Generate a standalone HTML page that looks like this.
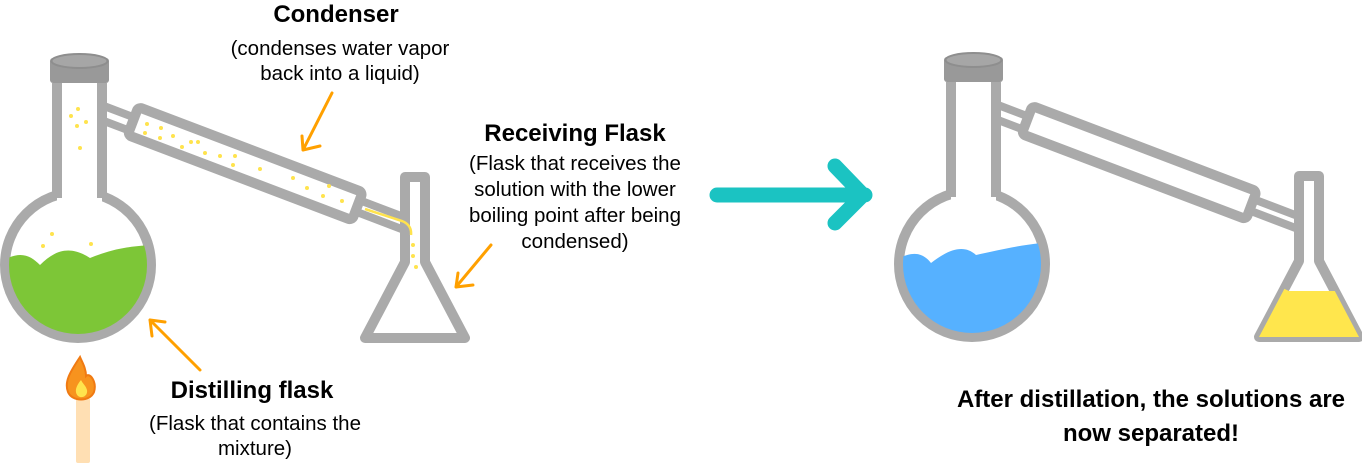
<!DOCTYPE html>
<html><head><meta charset="utf-8"><style>
html,body{margin:0;padding:0;background:#fff;width:1362px;height:463px;overflow:hidden}
svg{display:block}
text{font-family:"Liberation Sans",Arial,sans-serif;fill:#000}
.b{font-weight:bold;font-size:24px}
.s{font-size:20.5px}
</style></head><body>
<svg width="1362" height="463" viewBox="0 0 1362 463" xmlns="http://www.w3.org/2000/svg">
<defs>
<clipPath id="c1"><circle cx="78" cy="265" r="69"/></clipPath>
<clipPath id="c2"><path d="M405,262 L425,262 L465,338 L365,338 Z"/></clipPath>
</defs>

<g id="app">
 <g transform="translate(100,112) rotate(20.8)">
  <rect x="0" y="-7" width="45" height="14" fill="#fff" stroke="#aaa" stroke-width="8"/>
 </g>
 <g transform="translate(350,203) rotate(20.8)">
  <rect x="0" y="-6" width="60" height="12" fill="#fff" stroke="#aaa" stroke-width="8"/>
 </g>
 <g transform="translate(133,121) rotate(20.8)">
  <rect x="0" y="-15" width="240" height="30" rx="4" fill="#fff" stroke="#aaa" stroke-width="10"/>
 </g>
 <circle cx="78" cy="265" r="73" fill="#fff" stroke="#aaa" stroke-width="10"/>
 <rect x="57" y="83" width="45" height="125" fill="#fff"/>
 <path d="M57,83 L57,198 M102,83 L102,198" stroke="#aaa" stroke-width="10" fill="none"/>
 <rect x="50" y="58" width="59" height="25" rx="3" fill="#999"/>
 <ellipse cx="79.5" cy="61" rx="28" ry="7" fill="#a6a6a6" stroke="#8e8e8e" stroke-width="2"/>
 <path d="M405,177 L425,177 L425,262 L465,338 L365,338 L405,262 Z" fill="#fff" stroke="#aaa" stroke-width="10" stroke-linejoin="round"/>
</g>

<path clip-path="url(#c1)" d="M0,262 C20,250 30,255 40,265 C55,250 70,245 90,258 C110,250 130,245 160,245 L160,360 L0,360 Z" fill="#7dc637"/>
<g fill="#ffe34d">
 <circle cx="71" cy="116" r="2"/><circle cx="78" cy="109" r="2"/><circle cx="86" cy="122" r="2"/><circle cx="77" cy="126" r="2"/><circle cx="80" cy="148" r="2"/>
 <circle cx="52" cy="234" r="2"/><circle cx="43" cy="246" r="2"/><circle cx="91" cy="244" r="2"/>
 <circle cx="147" cy="124" r="2"/><circle cx="161" cy="128" r="2"/><circle cx="145" cy="133" r="2"/><circle cx="160" cy="138" r="2"/><circle cx="173" cy="136" r="2"/>
 <circle cx="182" cy="147" r="2"/><circle cx="191" cy="142" r="2"/><circle cx="198" cy="142" r="2"/><circle cx="205" cy="153" r="2"/><circle cx="220" cy="156" r="2"/><circle cx="235" cy="156" r="2"/>
 <circle cx="233" cy="165" r="2"/><circle cx="260" cy="169" r="2"/><circle cx="293" cy="178" r="2"/><circle cx="307" cy="188" r="2"/><circle cx="329" cy="186" r="2"/><circle cx="323" cy="196" r="2"/><circle cx="342" cy="201" r="2"/>
 <circle cx="413" cy="245" r="2"/><circle cx="413" cy="256" r="2"/><circle cx="416" cy="267" r="2"/>
</g>
<path d="M365,209 L402,221 Q412,225 411,235" stroke="#ffe34d" stroke-width="2.5" fill="none"/>

<g transform="translate(894,-1)">
 <use href="#app"/>
</g>
<g transform="translate(894,-1)">
 <path clip-path="url(#c1)" d="M0,262 C20,250 30,255 37,264 C55,250 70,245 82,256 C110,250 130,245 160,243 L160,360 L0,360 Z" fill="#56b1ff"/>
 <path clip-path="url(#c2)" d="M350,291 C360,287 365,294 372,290 C378,286 385,287 395,292 L480,292 L480,340 L350,340 Z" fill="#ffe64d"/>
</g>

<g stroke="#ffa000" stroke-width="3" fill="none" stroke-linecap="round" stroke-linejoin="round">
 <path d="M332,93 L303,150 M303,150 L302,136 M303,150 L320,146"/>
 <path d="M491,245 L456,287 M456,287 L458,273 M456,287 L473,285"/>
 <path d="M200,370 L150,320 M150,320 L152,336 M150,320 L165,322"/>
</g>

<path d="M717,195 L865,195 M835,166 L863,195 L835,223" stroke="#1bc3c2" stroke-width="15" fill="none" stroke-linecap="round" stroke-linejoin="round"/>

<rect x="76" y="398" width="14" height="65" rx="2" fill="#ffdfb3"/>
<path d="M80,357 C70,372 64,382 68,392 C72,402 90,402 94,392 C97,382 90,372 86,376 C86,368 82,362 80,357 Z" fill="#f7931e" stroke="#f07a12" stroke-width="2"/>
<path d="M81,380 C76,386 74,392 78,396 C82,399 88,396 87,390 C86,386 83,384 81,380 Z" fill="#ffe34d"/>

<text class="b" x="336" y="22" text-anchor="middle">Condenser</text>
<text class="s" x="340" y="55" text-anchor="middle">(condenses water vapor</text>
<text class="s" x="340" y="80" text-anchor="middle">back into a liquid)</text>

<text class="b" x="575" y="141" text-anchor="middle">Receiving Flask</text>
<text class="s" x="575" y="170" text-anchor="middle">(Flask that receives the</text>
<text class="s" x="575" y="196" text-anchor="middle">solution with the lower</text>
<text class="s" x="575" y="222" text-anchor="middle">boiling point after being</text>
<text class="s" x="575" y="248" text-anchor="middle">condensed)</text>

<text class="b" x="252" y="398" text-anchor="middle">Distilling flask</text>
<text class="s" x="255" y="430" text-anchor="middle">(Flask that contains the</text>
<text class="s" x="255" y="455" text-anchor="middle">mixture)</text>

<text class="b" x="1151" y="407" text-anchor="middle">After distillation, the solutions are</text>
<text class="b" x="1151" y="441" text-anchor="middle">now separated!</text>
</svg>
</body></html>
